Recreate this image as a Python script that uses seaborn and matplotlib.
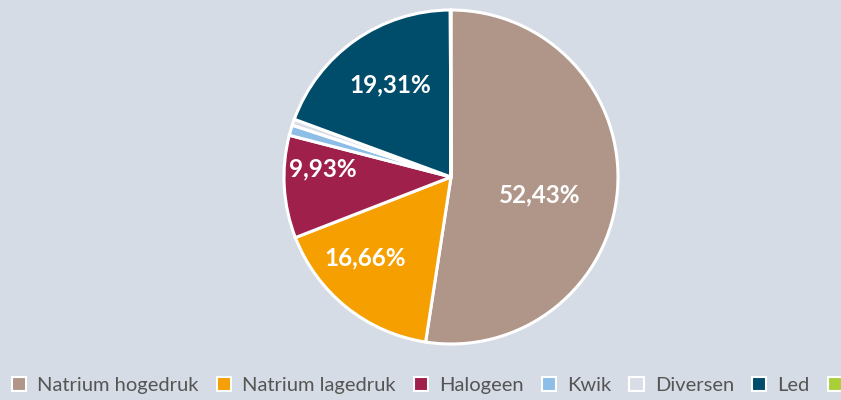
import numpy as np
import matplotlib
matplotlib.use("Agg")
import matplotlib.pyplot as plt
import seaborn as sns

# lamp types and share of total (%)
labels = ["Natrium hogedruk", "Natrium lagedruk", "Halogeen", "Kwik", "Diversen", "Led", "Inductie"]
shares = [52.43, 16.66, 9.93, 1.00, 0.60, 19.31, 0.07]
colors = ["#B09589", "#F59F00", "#A0204C", "#8DBEE8", "#D9DEE6", "#004C6B", "#A8CE38"]
shown = [True, True, True, False, False, True, False]
# label placement inside the slice: radius fraction and angle tweak (deg)
label_r = [0.54, 0.71, 0.77, 0, 0, 0.66, 0]
label_da = [-7.3, -8.0, -7.0, 0, 0, -1.8, 0]

sns.set_theme(style="white")
plt.rcParams['font.family'] = ['Lato', 'DejaVu Sans']

bg = "#D6DCE5"
fig = plt.figure(figsize=(8.41, 4.0), dpi=100, facecolor=bg)
ax = fig.add_axes([(451 - 167) / 841, (223 - 167) / 400, 334 / 841, 334 / 400])
ax.set_facecolor(bg)

wedges, _ = ax.pie(shares, colors=colors, startangle=90, counterclock=False,
                   wedgeprops=dict(edgecolor="white", linewidth=2.2))
ax.set_xlim(-1, 1)
ax.set_ylim(-1, 1)
ax.set_aspect("equal")

for w, v, s, r, da in zip(wedges, shares, shown, label_r, label_da):
    if not s:
        continue
    ang = np.deg2rad((w.theta1 + w.theta2) / 2 + da)
    ax.text(r * np.cos(ang), r * np.sin(ang), f"{v:.2f}%".replace(".", ","),
            ha="center", va="center", color="white", fontsize=17.5, fontweight="bold")

# the last legend entry is cut off by the chart edge in the original
leg_labels = labels[:-1] + [""]
handles = [plt.Rectangle((0, 0), 1, 1, facecolor=c, edgecolor="white", linewidth=1.5) for c in colors]
fig.legend(handles, leg_labels, loc="center left", bbox_to_anchor=(0.005, 0.037), ncol=7,
           frameon=False, fontsize=14.5, handlelength=0.7, handleheight=0.7,
           handletextpad=0.55, columnspacing=0.9, labelcolor="#555555", borderaxespad=0)

fig.savefig("out.png", dpi=100, facecolor=bg)
